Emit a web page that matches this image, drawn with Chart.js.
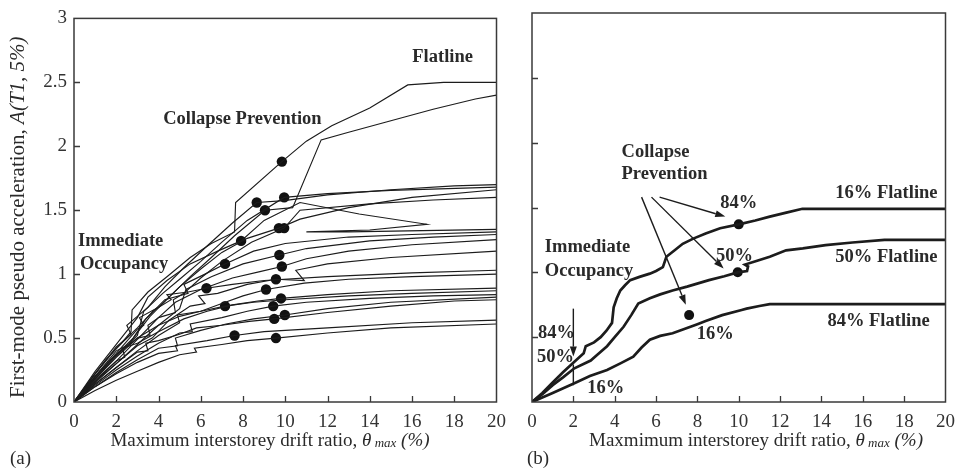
<!DOCTYPE html>
<html>
<head>
<meta charset="utf-8">
<title>Incremental dynamic analysis curves</title>
<script src="https://cdn.jsdelivr.net/npm/chart.js@4.4.0/dist/chart.umd.min.js"></script>
<style>
  html, body { margin: 0; padding: 0; background: #fff; }
  #wrap { position: relative; width: 964px; height: 469px; overflow: hidden; }
  #wrap canvas { position: absolute; top: 0; }
</style>
</head>
<body>
<div id="wrap">
  <canvas id="panelA" width="515" height="469" style="left:0;width:515px;height:469px"></canvas>
  <canvas id="panelB" width="449" height="469" style="left:515px;width:449px;height:469px"></canvas>
</div>
<script>
// ---- axis ticks -------------------------------------------------------
const driftTicks = [0, 2, 4, 6, 8, 10, 12, 14, 16, 18, 20];
const accelTicks = [0, 0.5, 1, 1.5, 2, 2.5, 3];

// ---- (a) single-record IDA curves: [drift %, A(T1,5%)] ------------------
const gm01 = [[0,0],[0.8,0.18],[1.5,0.33],[2.2,0.45],[2.7,0.55],[2.75,0.72],[3.5,0.86],[4.4,0.98],[5.5,1.13],[6.5,1.24],[7.6,1.33],[7.65,1.56],[9.84,1.88],[11,2.04],[12.2,2.16],[14,2.3],[15.8,2.48],[17.5,2.5],[20,2.5]];
const gm02 = [[0,0],[1,0.19],[2,0.37],[2.8,0.5],[3.6,0.67],[4.5,0.82],[5.5,0.98],[6.5,1.13],[7.6,1.3],[9.04,1.5],[10.35,1.52],[11.7,2.05],[13,2.11],[15,2.2],[17,2.29],[19,2.37],[20,2.4]];
const gm03 = [[0,0],[1,0.22],[2,0.43],[2.7,0.53],[2.5,0.6],[3.5,0.74],[4.3,0.9],[5.2,1.05],[6.3,1.22],[7.5,1.4],[8.65,1.56],[9.95,1.575],[12,1.62],[15,1.66],[18,1.69],[20,1.7]];
const gm04 = [[0,0],[1,0.18],[2,0.36],[3,0.52],[3.3,0.71],[4.2,0.85],[5,0.96],[6,1.1],[7,1.25],[8.2,1.42],[9.95,1.6],[12,1.63],[15,1.655],[20,1.68]];
const gm05 = [[0,0],[1,0.2],[2,0.38],[3,0.57],[3.3,0.6],[3.1,0.66],[4,0.74],[5,0.9],[6,1.04],[7,1.17],[8.2,1.28],[9.7,1.36],[10.7,1.43],[13,1.52],[16,1.6],[20,1.66]];
const gm06 = [[0,0],[1,0.16],[2,0.32],[3,0.49],[4,0.66],[4.8,0.7],[4.7,0.8],[5.2,0.85],[6,0.97],[7,1.1],[8.4,1.25],[9.95,1.36],[10.7,1.5],[14,1.55],[17,1.58],[20,1.6]];
const gm07 = [[0,0],[1,0.24],[2,0.45],[3,0.66],[3.5,0.82],[4.4,0.95],[5.5,1.08],[6.8,1.18],[7.91,1.26],[9,1.42],[10.7,1.56],[13.5,1.47],[16.7,1.39],[14,1.345],[11,1.33],[13,1.33],[16.5,1.34],[20,1.35]];
const gm08 = [[0,0],[1,0.2],[2,0.4],[2.6,0.45],[3.4,0.65],[4.3,0.8],[5.4,0.85],[5.2,0.92],[6.2,1.0],[7.15,1.08],[8.5,1.18],[10,1.24],[13,1.29],[16,1.31],[20,1.33]];
const gm09 = [[0,0],[1,0.15],[2,0.3],[3,0.45],[4,0.6],[5,0.73],[5.3,0.88],[6.5,0.98],[8,1.08],[9.72,1.15],[11,1.2],[14,1.26],[17,1.29],[20,1.31]];
const gm10 = [[0,0],[1,0.18],[2,0.35],[3,0.5],[3.6,0.52],[3.5,0.6],[4,0.66],[4.8,0.78],[6,0.88],[7.5,0.97],[8.8,1.02],[9.84,1.06],[11,1.12],[13,1.18],[16,1.23],[20,1.27]];
const gm11 = [[0,0],[1,0.16],[2,0.3],[3,0.44],[3.7,0.5],[4.5,0.64],[5.5,0.75],[6.2,0.77],[5.9,0.83],[6.8,0.85],[8.2,0.92],[9.56,0.96],[10.9,0.95],[10.5,1.03],[12,1.08],[15,1.13],[20,1.18]];
const gm12 = [[0,0],[1,0.22],[2,0.42],[3,0.58],[3.8,0.72],[4.6,0.8],[4.4,0.84],[5.4,0.86],[6.27,0.89],[7.5,0.92],[9,0.95],[12,0.98],[16,1.01],[20,1.03]];
const gm13 = [[0,0],[1,0.14],[2,0.27],[3,0.4],[4,0.52],[5,0.62],[4.9,0.68],[6,0.71],[7,0.77],[8,0.83],[9.09,0.88],[10.9,0.93],[13,0.96],[16,0.98],[20,1.0]];
const gm14 = [[0,0],[1,0.17],[2,0.32],[2.4,0.35],[2.3,0.42],[3,0.46],[4,0.55],[5.2,0.65],[6.3,0.71],[7.5,0.76],[8.7,0.79],[9.8,0.81],[12,0.84],[15,0.87],[20,0.89]];
const gm15 = [[0,0],[1,0.2],[2,0.37],[3,0.5],[4,0.6],[5,0.67],[6,0.71],[7.15,0.75],[8.5,0.78],[10,0.8],[13,0.83],[16,0.85],[20,0.87]];
const gm16 = [[0,0],[1,0.13],[2,0.25],[3,0.36],[4,0.46],[5,0.54],[5.6,0.55],[5.5,0.61],[7,0.66],[8.2,0.71],[9.43,0.75],[11,0.78],[14,0.81],[17,0.83],[20,0.84]];
const gm17 = [[0,0],[1,0.12],[2,0.23],[3,0.33],[4,0.42],[4.9,0.44],[4.8,0.5],[6,0.56],[7.2,0.61],[8.5,0.65],[9.98,0.68],[12,0.73],[15,0.78],[20,0.82]];
const gm18 = [[0,0],[1,0.14],[2,0.27],[3,0.39],[3.5,0.4],[3.4,0.46],[4,0.48],[5,0.53],[5.8,0.58],[7,0.6],[8.3,0.63],[9.48,0.65],[12,0.7],[15,0.75],[18,0.79],[20,0.8]];
const gm19 = [[0,0],[1,0.12],[2,0.22],[3,0.31],[4,0.38],[4.9,0.4],[4.8,0.44],[6.3,0.48],[7.6,0.52],[9,0.55],[12,0.58],[16,0.62],[20,0.64]];
const gm20 = [[0,0],[1,0.09],[2,0.17],[3,0.24],[4,0.31],[5,0.37],[5.8,0.39],[5.7,0.42],[7,0.45],[8.2,0.48],[9.56,0.5],[12,0.54],[15,0.58],[20,0.61]];
const recordCurves = [gm01, gm02, gm03, gm04, gm05, gm06, gm07, gm08, gm09, gm10,
                      gm11, gm12, gm13, gm14, gm15, gm16, gm17, gm18, gm19, gm20];
// drift at which each record reaches its collapse-prevention point
const recordCPDrift = [9.84, 9.04, 8.65, 9.95, 9.7, 9.95, 7.91, 7.15, 9.72, 9.84,
                       9.56, 6.27, 9.09, 9.8, 7.15, 9.43, 9.98, 9.48, 7.6, 9.56];

// ---- (b) fractile IDA curves --------------------------------------------
const frac16 = [[0,0],[0.5,0.07],[1,0.15],[1.5,0.23],[2.05,0.31],[2.5,0.375],[2.6,0.43],[3.0,0.46],[3.32,0.5],[3.6,0.55],[3.87,0.61],[3.95,0.73],[4.1,0.8],[4.27,0.86],[4.5,0.9],[4.75,0.94],[5.2,0.965],[5.7,0.99],[6.0,1.01],[6.33,1.04],[6.5,1.12],[6.9,1.17],[7.29,1.22],[7.8,1.26],[8.4,1.3],[9.1,1.34],[10.0,1.37],[10.8,1.4],[11.5,1.43],[12.3,1.46],[13.08,1.49],[20,1.49]];
const frac50 = [[0,0],[0.5,0.06],[1,0.13],[1.5,0.19],[2.05,0.26],[2.84,0.32],[3.2,0.37],[3.63,0.43],[4.0,0.5],[4.43,0.58],[4.8,0.67],[5.14,0.76],[5.7,0.8],[6.2,0.83],[6.8,0.86],[7.5,0.89],[8.56,0.94],[9.3,0.97],[9.95,1.0],[10.4,1.01],[10.45,1.045],[10.3,1.06],[10.7,1.08],[11.5,1.12],[12.29,1.17],[13.1,1.185],[14.2,1.21],[15.5,1.23],[17.05,1.25],[20,1.25]];
const frac84 = [[0,0],[1,0.07],[2.05,0.144],[2.8,0.2],[3.63,0.247],[4.3,0.3],[4.9,0.35],[5.3,0.42],[5.7,0.48],[6.2,0.51],[6.8,0.53],[7.5,0.57],[8.0,0.6],[8.4,0.625],[9.2,0.67],[10.14,0.71],[10.38,0.72],[11.0,0.74],[11.5,0.755],[20,0.755]];
const fracCPDrift = [10.0, 9.95];          // CP points on the 16% and 50% curves
const fracCP84 = [[7.6, 0.67]];            // 84% CP point
const fracIOMark = [[2.0, 0.13], [2.0, 0.29]];

// ---- styling -------------------------------------------------------------
const SERIF = "'Liberation Serif', 'Times New Roman', serif";
const INK = '#1c1c1c';
const TEXT = '#2a2a2a';
const LABEL_FONT = 'bold 18.5px ' + SERIF;

const toXY = a => a.map(p => ({ x: p[0], y: p[1] }));
const cpOf = (curve, drift) => curve.find(p => p[0] === drift);

// arrows in panel (b): [from, to] in data units
const panelBArrows = [
  [[6.17, 1.58], [9.35, 1.43]],
  [[5.78, 1.58], [9.27, 1.03]],
  [[5.30, 1.58], [7.44, 0.75]],
  [[2.00, 0.72], [2.00, 0.35]]
];

const panelALabels = [
  { text: 'Flatline', x: 17.45, y: 2.70, align: 'center' },
  { text: 'Collapse Prevention', x: 7.97, y: 2.21, align: 'center' },
  { text: 'Immediate', x: 0.19, y: 1.257, align: 'left' },
  { text: 'Occupancy', x: 0.28, y: 1.08, align: 'left' }
];
const panelBLabels = [
  { text: 'Collapse', x: 4.33, y: 1.93, align: 'left' },
  { text: 'Prevention', x: 4.33, y: 1.76, align: 'left' },
  { text: '84%', x: 10.0, y: 1.535, align: 'center' },
  { text: '50%', x: 9.8, y: 1.126, align: 'center' },
  { text: '16%', x: 8.86, y: 0.524, align: 'center' },
  { text: 'Immediate', x: 0.62, y: 1.19, align: 'left' },
  { text: 'Occupancy', x: 0.62, y: 1.01, align: 'left' },
  { text: '84%', x: 0.29, y: 0.53, align: 'left' },
  { text: '50%', x: 0.24, y: 0.347, align: 'left' },
  { text: '16%', x: 2.67, y: 0.108, align: 'left' },
  { text: '16% Flatline', x: 14.67, y: 1.61, align: 'left' },
  { text: '50% Flatline', x: 14.67, y: 1.118, align: 'left' },
  { text: '84% Flatline', x: 14.29, y: 0.625, align: 'left' }
];

// draws a sequence of differently styled text pieces starting at (x, y)
function runsWidth(ctx, runs) {
  let w = 0;
  for (const r of runs) { ctx.font = r.font; w += ctx.measureText(r.t).width; }
  return w;
}
function drawRuns(ctx, runs, x, y) {
  let cx = x;
  for (const r of runs) {
    ctx.font = r.font;
    ctx.fillText(r.t, cx, y + (r.dy || 0));
    cx += ctx.measureText(r.t).width;
  }
}
function xTitleRuns(word) {
  const f = '19px ' + SERIF, fi = 'italic 19px ' + SERIF, fs = 'italic 13px ' + SERIF;
  return [
    { t: word + ' interstorey drift ratio, ', font: f },
    { t: '\u03B8', font: fi },
    { t: ' max', font: fs, dy: 1 },
    { t: ' (%)', font: fi }
  ];
}

function decorPlugin(cfg) {
  return {
    id: 'decor',
    afterDraw(chart) {
      const ctx = chart.ctx;
      const a = chart.chartArea;
      const xs = chart.scales.x, ys = chart.scales.y;
      ctx.save();
      // frame
      ctx.strokeStyle = '#3a3a3a';
      ctx.lineWidth = 1.5;
      ctx.strokeRect(a.left, a.top, a.right - a.left, a.bottom - a.top);
      // inward tick marks
      ctx.lineWidth = 1.3;
      ctx.beginPath();
      driftTicks.slice(1, -1).forEach(v => {
        const px = Math.round(xs.getPixelForValue(v)) + 0.5;
        ctx.moveTo(px, a.bottom); ctx.lineTo(px, a.bottom - 6);
      });
      accelTicks.slice(1, -1).forEach(v => {
        const py = Math.round(ys.getPixelForValue(v)) + 0.5;
        ctx.moveTo(a.left, py); ctx.lineTo(a.left + 6, py);
      });
      ctx.stroke();
      // arrows
      ctx.strokeStyle = INK; ctx.fillStyle = INK; ctx.lineWidth = 1.4;
      (cfg.arrows || []).forEach(([p, q]) => {
        const x1 = xs.getPixelForValue(p[0]), y1 = ys.getPixelForValue(p[1]);
        const x2 = xs.getPixelForValue(q[0]), y2 = ys.getPixelForValue(q[1]);
        const ang = Math.atan2(y2 - y1, x2 - x1);
        const L = 10, W = 3.5;
        const bx = x2 - L * Math.cos(ang), by = y2 - L * Math.sin(ang);
        ctx.beginPath(); ctx.moveTo(x1, y1); ctx.lineTo(bx, by); ctx.stroke();
        ctx.beginPath();
        ctx.moveTo(x2, y2);
        ctx.lineTo(bx + W * Math.sin(ang), by - W * Math.cos(ang));
        ctx.lineTo(bx - W * Math.sin(ang), by + W * Math.cos(ang));
        ctx.closePath(); ctx.fill();
      });
      // annotation labels
      ctx.fillStyle = TEXT;
      ctx.font = LABEL_FONT;
      ctx.textBaseline = 'middle';
      cfg.labels.forEach(l => {
        ctx.textAlign = l.align;
        ctx.fillText(l.text, xs.getPixelForValue(l.x), ys.getPixelForValue(l.y));
      });
      // x-axis title and panel tag
      ctx.textAlign = 'left';
      ctx.textBaseline = 'alphabetic';
      const runs = xTitleRuns(cfg.word);
      drawRuns(ctx, runs, cfg.titleCenter - runsWidth(ctx, runs) / 2, 446);
      ctx.font = '19px ' + SERIF;
      ctx.fillText(cfg.tag, cfg.tagX, 464);
      // y-axis title
      if (cfg.yTitle) {
        const yr = [
          { t: 'First-mode pseudo acceleration, ', font: '21px ' + SERIF },
          { t: 'A(T1, 5%)', font: 'italic 21px ' + SERIF }
        ];
        ctx.translate(18, (a.top + a.bottom) / 2 + 7);
        ctx.rotate(-Math.PI / 2);
        ctx.textBaseline = 'middle';
        drawRuns(ctx, yr, -runsWidth(ctx, yr) / 2, 0);
      }
      ctx.restore();
    }
  };
}

function scalesFor(showY, yWidth) {
  return {
    x: {
      type: 'linear',
      min: driftTicks[0], max: driftTicks[driftTicks.length - 1],
      afterBuildTicks: s => { s.ticks = driftTicks.map(v => ({ value: v })); },
      afterFit: s => { s.height = 67; },
      grid: { display: false, drawTicks: false },
      border: { display: false },
      ticks: { color: '#333', padding: 9, font: { family: SERIF, size: 19 }, maxRotation: 0,
               callback: v => String(v) }
    },
    y: {
      type: 'linear',
      min: accelTicks[0], max: accelTicks[accelTicks.length - 1],
      afterBuildTicks: s => { s.ticks = accelTicks.map(v => ({ value: v })); },
      afterFit: s => { s.width = yWidth; },
      grid: { display: false, drawTicks: false },
      border: { display: false },
      ticks: { display: showY, color: '#333', padding: 7, font: { family: SERIF, size: 19 },
               callback: v => String(v) }
    }
  };
}

const common = {
  responsive: false,
  animation: false,
  events: [],
  plugins: { legend: { display: false }, tooltip: { enabled: false } }
};

// ---- panel (a) -------------------------------------------------------------
const recordSets = recordCurves.map(c => ({
  data: toXY(c), showLine: true, borderColor: INK, borderWidth: 1.15,
  pointRadius: 0, tension: 0, fill: false
}));
recordSets.push({
  data: toXY(recordCurves.map((c, i) => cpOf(c, recordCPDrift[i]))),
  showLine: false, pointRadius: 5.2, pointBackgroundColor: '#111', pointBorderWidth: 0
});

new Chart(document.getElementById('panelA'), {
  type: 'scatter',
  data: { datasets: recordSets },
  options: Object.assign({}, common, {
    layout: { padding: { left: 0, right: 17, top: 13, bottom: 0 } },
    scales: scalesFor(true, 74)
  }),
  plugins: [decorPlugin({
    labels: panelALabels, word: 'Maximum', titleCenter: 270, tag: '(a)', tagX: 10, yTitle: true
  })]
});

// ---- panel (b) -------------------------------------------------------------
const fracCurves = [frac16, frac50, frac84];
const fracSets = fracCurves.map(c => ({
  data: toXY(c), showLine: true, borderColor: INK, borderWidth: 2.7,
  pointRadius: 0, tension: 0, fill: false
}));
fracSets.push({
  data: toXY(fracIOMark), showLine: true, borderColor: INK, borderWidth: 1.4, pointRadius: 0
});
fracSets.push({
  data: toXY([cpOf(frac16, fracCPDrift[0]), cpOf(frac50, fracCPDrift[1])].concat(fracCP84)),
  showLine: false, pointRadius: 5, pointBackgroundColor: '#111', pointBorderWidth: 0
});

new Chart(document.getElementById('panelB'), {
  type: 'scatter',
  data: { datasets: fracSets },
  options: Object.assign({}, common, {
    layout: { padding: { left: 0, right: 12, top: 13, bottom: 0 } },
    scales: scalesFor(false, 17)
  }),
  plugins: [decorPlugin({
    labels: panelBLabels, arrows: panelBArrows, word: 'Maxmimum', titleCenter: 241, tag: '(b)', tagX: 12, yTitle: false
  })]
});
</script>
</body>
</html>
